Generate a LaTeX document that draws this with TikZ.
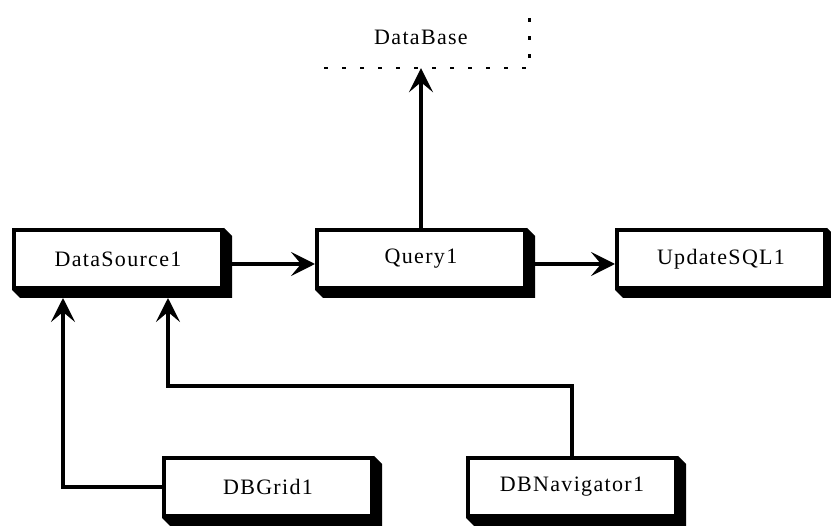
\documentclass[tikz,border=0pt]{standalone}
\usepackage{fontspec}
\setmainfont{Liberation Serif}
\usetikzlibrary{arrows.meta,calc,backgrounds}
\tikzset{
  labelfont/.style={font=\fontsize{22}{24}\selectfont\addfontfeature{LetterSpace=6}},
  compbox/.style={draw=black, fill=white, line width=4pt, minimum width=208pt,
    minimum height=58pt, inner sep=0pt, labelfont},
  link/.style={line width=3.2pt, -{Stealth[length=24pt,width=24pt,inset=10pt]}},
  dbedge/.style={line width=2.5pt, dash pattern=on 4pt off 14pt},
}
% drop shadow with chamfered corners behind a box
\newcommand{\boxshadow}[1]{%
  \fill[black] (#1.south west) -- ++(8,8) -- ($(#1.south east)+(8,8)$)
    -- ($(#1.north east)+(8,8)$) -- (#1.north east) -- cycle;}
\begin{document}
\begin{tikzpicture}[x=1pt,y=-1pt]
\useasboundingbox (0,0) rectangle (831,529);

% component boxes
\node[compbox] (ds)   at (118,259) {DataSource1};
\node[compbox] (q)    at (421,259) {Query1};
\node[compbox] (usq)  at (721,259) {UpdateSQL1};
\node[compbox] (grid) at (268,487) {DBGrid1};
\node[compbox] (nav)  at (572,487) {DBNavigator1};

% white page and shadows go behind the boxes
\begin{scope}[on background layer]
\fill[white] (0,0) rectangle (831,529);
\foreach \b in {ds,q,usq,grid,nav}{\boxshadow{\b}}
\end{scope}

% database, outlined only by dashed edges
\node[minimum width=205pt, minimum height=56pt, inner sep=0pt] (db) at (427,40) {};
\node[labelfont] (dbl) at (421,37) {DataBase};
\draw[dbedge] (db.south west) -- (db.south east) -- (db.north east);

% connectors
\draw[link] (q.north) -- (q.north |- db.south);
\draw[link] ($(ds.east)+(8,5)$) -- (q.west |- {$(ds.east)+(8,5)$});
\draw[link] ($(q.east)+(8,5)$) -- (usq.west |- {$(q.east)+(8,5)$});
\coordinate (dsa) at ($(ds.south west)+(51,8)$);
\coordinate (dsb) at ($(ds.south west)+(156,8)$);
\draw[link] (grid.west) -| (dsa);
\draw[link] (nav.north) |- ($(dsb)+(0,88)$) -- (dsb);
\end{tikzpicture}
\end{document}
